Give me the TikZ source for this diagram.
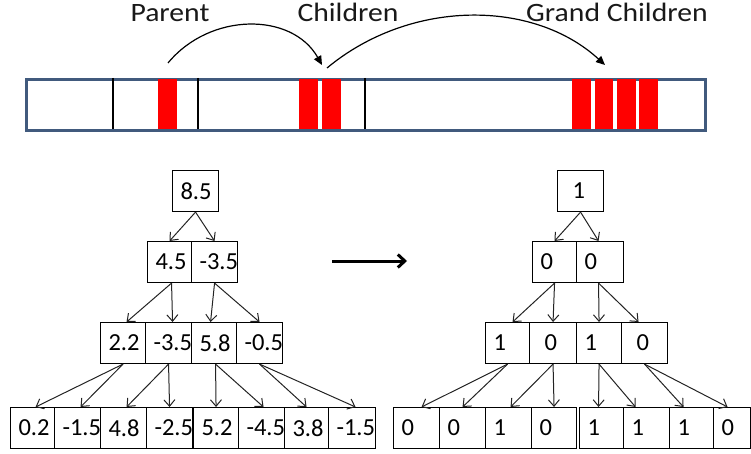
\documentclass[tikz,border=0pt]{standalone}
\usepackage{fontspec}
\setmainfont{Carlito}
\usetikzlibrary{arrows.meta}
\definecolor{barblue}{RGB}{65,90,125}
\definecolor{treegray}{RGB}{35,35,35}
\newcommand\numfont{\fontsize{24.5}{28}\selectfont}
\newcommand\labfont{\fontsize{26.5}{30}\selectfont}
\newcommand\gap{\hspace*{7pt}}
\exhyphenpenalty=10000
\hyphenpenalty=10000
\begin{document}
\begin{tikzpicture}[x=1pt, y=-1pt,
  cell/.style={draw=black, line width=1.1pt, anchor=north west, minimum height=41pt,
    inner xsep=8pt, inner ysep=0pt, text width=#1, align=left, font=\numfont},
  cell/.default=29pt,
  link/.style={draw=treegray, line width=1pt, -{Straight Barb[length=6.5pt,width=11pt]}},
  hop/.style={draw=black, line width=1.2pt, -{Triangle[length=9pt,width=8pt]}},
  blk/.style={fill=red, draw=none, inner sep=0pt, minimum width=#1, minimum height=50pt, anchor=north west},
  blk/.default=19pt,
  sepline/.style={draw=black, line width=2.5pt},
  caption/.style={font=\labfont, anchor=base, xscale=1.12, inner sep=0pt, text=black!90}]
\useasboundingbox (0,0) rectangle (751,454);

% ---- memory strip ----
\node[draw=barblue, line width=2.8pt, minimum width=679pt, minimum height=51pt,
      inner sep=0pt, anchor=north west] (bar) at (25,78) {};
\node[blk] (p1) at (158,79) {};
\node[blk] (c1) at (299,79) {};
\node[blk] (c2) at (322,79) {};
\node[blk] (g1) at (572,79) {};
\node[blk=18pt] (g2) at (595,79) {};
\node[blk] (g3) at (617,79) {};
\node[blk] (g4) at (639,79) {};
\draw[sepline] (113,78) -- (113,129);
\draw[sepline] (198,78) -- (198,129);
\draw[sepline] (365,78) -- (365,129);

\node[caption] (lparent) at (170,22) {Parent};
\node[caption] (lchild) at (348,22) {Children};
\node[caption] (lgrand) at (617,22) {Grand Children};

\coordinate (a1) at (168,63);
\coordinate (a2) at (322,65);
\coordinate (b1) at (327,68);
\coordinate (b2) at (605,65);
\draw[hop] (a1) .. controls (210,12) and (292,12) .. (a2);
\draw[hop] (b1) .. controls (410,-1) and (533,-1) .. (b2);

% ---- left tree: values ----
\node[cell=30pt] (L1) at (172,170) {8.5};
\node[cell=28pt] (L2a) at (147,241) {4.5};
\node[cell=30pt] (L2b) at (191,241) {-3.5};
\node[cell] (L3a) at (100,322) {2.2};
\node[cell=30pt] (L3b) at (145,322) {-3.5};
\node[cell] (L3c) at (191,322) {5.8};
\node[cell=30pt] (L3d) at (236,322) {-0.5};
\node[cell=28pt] (L4a) at (10,407) {0.2};
\node[cell=30pt] (L4b) at (54,407) {-1.5};
\node[cell=30pt] (L4c) at (100,407) {4.8};
\node[cell=30pt] (L4d) at (146,407) {-2.5};
\node[cell] (L4e) at (193,407) {5.2};
\node[cell=30pt] (L4f) at (238,407) {-4.5};
\node[cell=28pt] (L4g) at (284,407) {3.8};
\node[cell=31pt] (L4h) at (328,407) {-1.5};

\draw[link] (L1.south) -- (L2a.north);
\draw[link] (L1.south) -- (L2b.north);
\draw[link] ([xshift=2pt]L2a.south) -- ([xshift=3.5pt]L3a.north);
\draw[link] ([xshift=2pt]L2a.south) -- ([xshift=4pt]L3b.north);
\draw[link] (L2b.south) -- ([xshift=-3.5pt]L3c.north);
\draw[link] (L2b.south) -- (L3d.north);
\draw[link] (L3a.south) -- ([xshift=3pt]L4a.north);
\draw[link] (L3a.south) -- ([xshift=3pt]L4b.north);
\draw[link] (L3b.south) -- ([xshift=3pt]L4c.north);
\draw[link] (L3b.south) -- (L4d.north);
\draw[link] ([xshift=1.5pt]L3c.south) -- (L4e.north);
\draw[link] ([xshift=1.5pt]L3c.south) -- ([xshift=2pt]L4f.north);
\draw[link] (L3d.south) -- (L4g.north);
\draw[link] (L3d.south) -- ([xshift=3.5pt]L4h.north);

% ---- transformation arrow ----
\coordinate (m1) at (332,261);
\coordinate (m2) at (407,261);
\draw[line width=3pt, -{Straight Barb[length=7pt,width=13pt]}] (m1) -- (m2);

% ---- right tree: bits ----
\node[cell=30pt] (R1) at (557,170) {\gap 1};
\node[cell=28pt] (R2a) at (532,241) {0};
\node[cell=31pt] (R2b) at (576,241) {0};
\node[cell=28pt] (R3a) at (485,322) {1};
\node[cell=31pt] (R3b) at (529,322) {\gap 0};
\node[cell] (R3c) at (576,322) {1};
\node[cell=30pt] (R3d) at (621,322) {\gap 0};
\node[cell=30pt] (R4a) at (393,407) {0};
\node[cell=30pt] (R4b) at (439,407) {0};
\node[cell=30pt] (R4c) at (485,407) {1};
\node[cell] (R4d) at (531,407) {0};
\node[cell=28pt] (R4e) at (579,407) {1};
\node[cell=30pt] (R4f) at (623,407) {1};
\node[cell=28pt] (R4g) at (669,407) {1};
\node[cell=21pt] (R4h) at (713,407) {0};

\draw[link] (R1.south) -- (R2a.north);
\draw[link] (R1.south) -- ([xshift=-1.5pt]R2b.north);
\draw[link] (R2a.south) -- ([xshift=5pt]R3a.north);
\draw[link] (R2a.south) -- (R3b.north);
\draw[link] ([xshift=-1.5pt]R2b.south) -- (R3c.north);
\draw[link] ([xshift=-1.5pt]R2b.south) -- ([xshift=-6pt]R3d.north);
\draw[link] (R3a.south) -- ([xshift=5pt]R4a.north);
\draw[link] (R3a.south) -- (R4b.north);
\draw[link] (R3b.south) -- ([xshift=2pt]R4c.north);
\draw[link] (R3b.south) -- (R4d.north);
\draw[link] (R3c.south) -- ([xshift=-3pt]R4e.north);
\draw[link] (R3c.south) -- ([xshift=-11pt]R4f.north);
\draw[link] (R3d.south) -- ([xshift=-8pt]R4g.north);
\draw[link] (R3d.south) -- ([xshift=-4.5pt]R4h.north);
\end{tikzpicture}
\end{document}
